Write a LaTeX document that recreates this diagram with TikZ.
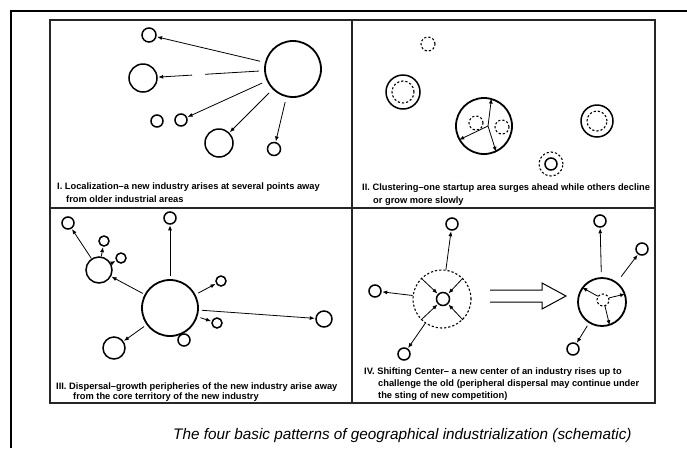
\documentclass[tikz,border=0pt]{standalone}
\usepackage{fontspec}
\setmainfont{Liberation Sans}
\usetikzlibrary{arrows.meta}
\begin{document}
\begin{tikzpicture}[x=1pt,y=-1pt,
  circ/.style={draw,circle,inner sep=0pt,line width=1.5pt},
  bigcirc/.style={circ,line width=1.8pt},
  dcirc/.style={draw,circle,inner sep=0pt,line width=1.1pt,dash pattern=on 2.2pt off 2pt},
  arr/.style={line width=0.8pt,-{Latex[length=5pt,width=4pt]},shorten >=0.5pt},
  capt/.style={anchor=base west,inner sep=0pt,font=\fontsize{9.3}{10}\selectfont\bfseries},
]
\useasboundingbox (0,0) rectangle (687,448);
% frames
\draw[line width=2.5pt] (11,448) -- (11,11) -- (687,11);
\draw[line width=1.8pt,black!85] (50,20) rectangle (655,403);
\draw[line width=1.6pt,black!85] (352,20) -- (352,403) (50,208) -- (655,208);

% ---------- Panel I ----------
\node[bigcirc,minimum size=56pt] (bigI) at (293,69) {};
\node[circ,minimum size=14pt] (aI) at (149,35) {};
\node[circ,minimum size=28pt] (bI) at (143,78) {};
\node[circ,minimum size=12pt] (cI) at (157,121) {};
\node[circ,minimum size=12pt] (dI) at (181,120) {};
\node[circ,minimum size=28pt] (eI) at (219,143) {};
\node[circ,minimum size=13pt] (fI) at (274,149) {};
\coordinate (gIa) at (205,74.3);
\coordinate (gIb) at (192,75.1);
\draw[arr,shorten <=5pt] (bigI) -- (aI);
\draw[line width=0.8pt,shorten <=5pt] (bigI) -- (gIa);
\draw[arr] (gIb) -- (bI);
\draw[arr,shorten <=5pt] (bigI) -- (dI);
\draw[arr,shorten <=5pt] (bigI) -- (eI);
\draw[arr,shorten <=5pt] (bigI) -- (fI);
\node[capt] (capIa) at (57,189) {I. Localization--a new industry arises at several points away};
\node[capt] (capIb) at (66,202) {from older industrial areas};

% ---------- Panel II ----------
\node[dcirc,minimum size=14pt] (aII) at (428,44) {};
\node[circ,minimum size=34pt] (bII) at (403,92) {};
\node[dcirc,minimum size=22pt] (bIIi) at (403,92) {};
\node[bigcirc,minimum size=56pt] (cII) at (484,126) {};
\node[dcirc,minimum size=14pt] (cIIa) at (476,123) {};
\node[dcirc,minimum size=14pt] (cIIb) at (502,127) {};
\coordinate (hubII) at (488,126);
\draw[arr] (hubII) -- (cII.75);
\draw[arr] (hubII) -- (cII.209);
\draw[arr] (hubII) -- (cII.295);
\node[circ,minimum size=32pt] (dII) at (597,121) {};
\node[dcirc,minimum size=20pt] (dIIi) at (597,121) {};
\node[circ,minimum size=12pt] (eII) at (551,164) {};
\node[dcirc,minimum size=24pt] (eIIo) at (551,164) {};
\node[capt] (capIIa) at (362,190) {II. Clustering--one startup area surges ahead while others decline};
\node[capt] (capIIb) at (373,203) {or grow more slowly};

% ---------- Panel III ----------
\node[bigcirc,minimum size=56pt] (bigIII) at (170,308) {};
\node[circ,minimum size=26pt] (mIII) at (99,270) {};
\node[circ,minimum size=10pt] (m1III) at (104,241) {};
\node[circ,minimum size=10pt] (m2III) at (121,258) {};
\node[circ,minimum size=12pt] (tlIII) at (68,223) {};
\node[circ,minimum size=12pt] (tIII) at (170,218) {};
\node[circ,minimum size=10pt] (r1III) at (221,281) {};
\node[circ,minimum size=10pt] (r2III) at (217,323) {};
\node[circ,minimum size=16pt] (frIII) at (324,319) {};
\node[circ,minimum size=12pt] (bIII) at (184,340) {};
\node[circ,minimum size=22pt] (blIII) at (114,348) {};
\draw[arr] (mIII) -- (tlIII);
\draw[arr] (mIII) -- (m1III);
\draw[arr] (mIII) -- (m2III);
\draw[arr,shorten <=2pt] (bigIII) -- (mIII);
\draw[arr,shorten <=3pt] (bigIII) -- (tIII);
\draw[arr,shorten <=3pt] (bigIII) -- (r1III);
\draw[arr,shorten <=3pt] (bigIII) -- (r2III);
\draw[arr,shorten <=3pt] (bigIII) -- (frIII);
\draw[arr,shorten <=3pt] (bigIII) -- (blIII);
\node[capt] (capIIIa) at (56,389) {III. Dispersal--growth peripheries of the new industry arise away};
\node[capt] (capIIIb) at (73,399) {from the core territory of the new industry};

% ---------- Panel IV ----------
\node[dcirc,minimum size=58pt] (oldD) at (442,299) {};
\node[circ,minimum size=13pt] (oldC) at (443,299) {};
\node[circ,minimum size=12pt] (t4) at (452,224) {};
\node[circ,minimum size=12pt] (l4) at (375,291) {};
\node[circ,minimum size=12pt] (b4) at (404,354) {};
\draw[arr] (oldD) -- (t4);
\draw[arr] (oldD) -- (l4);
\draw[arr] (oldD) -- (b4);
\draw[arr] (oldD.135) -- (oldC.135);
\draw[arr] (oldD.45) -- (oldC.45);
\draw[arr] (oldD.225) -- (oldC.225);
\draw[arr] (oldD.315) -- (oldC.315);
% hollow arrow
\draw[line width=1pt,line join=miter] (490,290) -- (542,290) -- (542,283) -- (566,296) -- (542,309) -- (542,302) -- (490,302);
\node[bigcirc,minimum size=48pt] (newC) at (602,302) {};
\node[dcirc,minimum size=12pt] (newI) at (603,300) {};
\draw[arr] (newI.144) -- (newC.144);
\draw[arr] (newI.19) -- (newC.19);
\draw[arr] (newI.288) -- (newC.288);
\node[circ,minimum size=12pt] (t4b) at (600,221) {};
\node[circ,minimum size=12pt] (ur4b) at (642,249) {};
\node[circ,minimum size=12pt] (b4b) at (573,349) {};
\draw[arr,shorten <=5pt] (newC) -- (t4b);
\draw[arr,shorten <=7pt] (newC) -- (ur4b);
\draw[arr,shorten <=3pt] (newC) -- (b4b);
\node[capt] (capIVa) at (364,374) {IV. Shifting Center-- a new center of an industry rises up to};
\node[capt] (capIVb) at (378,386) {challenge the old (peripheral dispersal may continue under};
\node[capt] (capIVc) at (378,398) {the sting of new competition)};

% ---------- Title ----------
\node[anchor=base west,inner sep=0pt,font=\fontsize{15.3}{18}\selectfont\itshape] (title) at (173,439) {The four basic patterns of geographical industrialization (schematic)};
\end{tikzpicture}
\end{document}
